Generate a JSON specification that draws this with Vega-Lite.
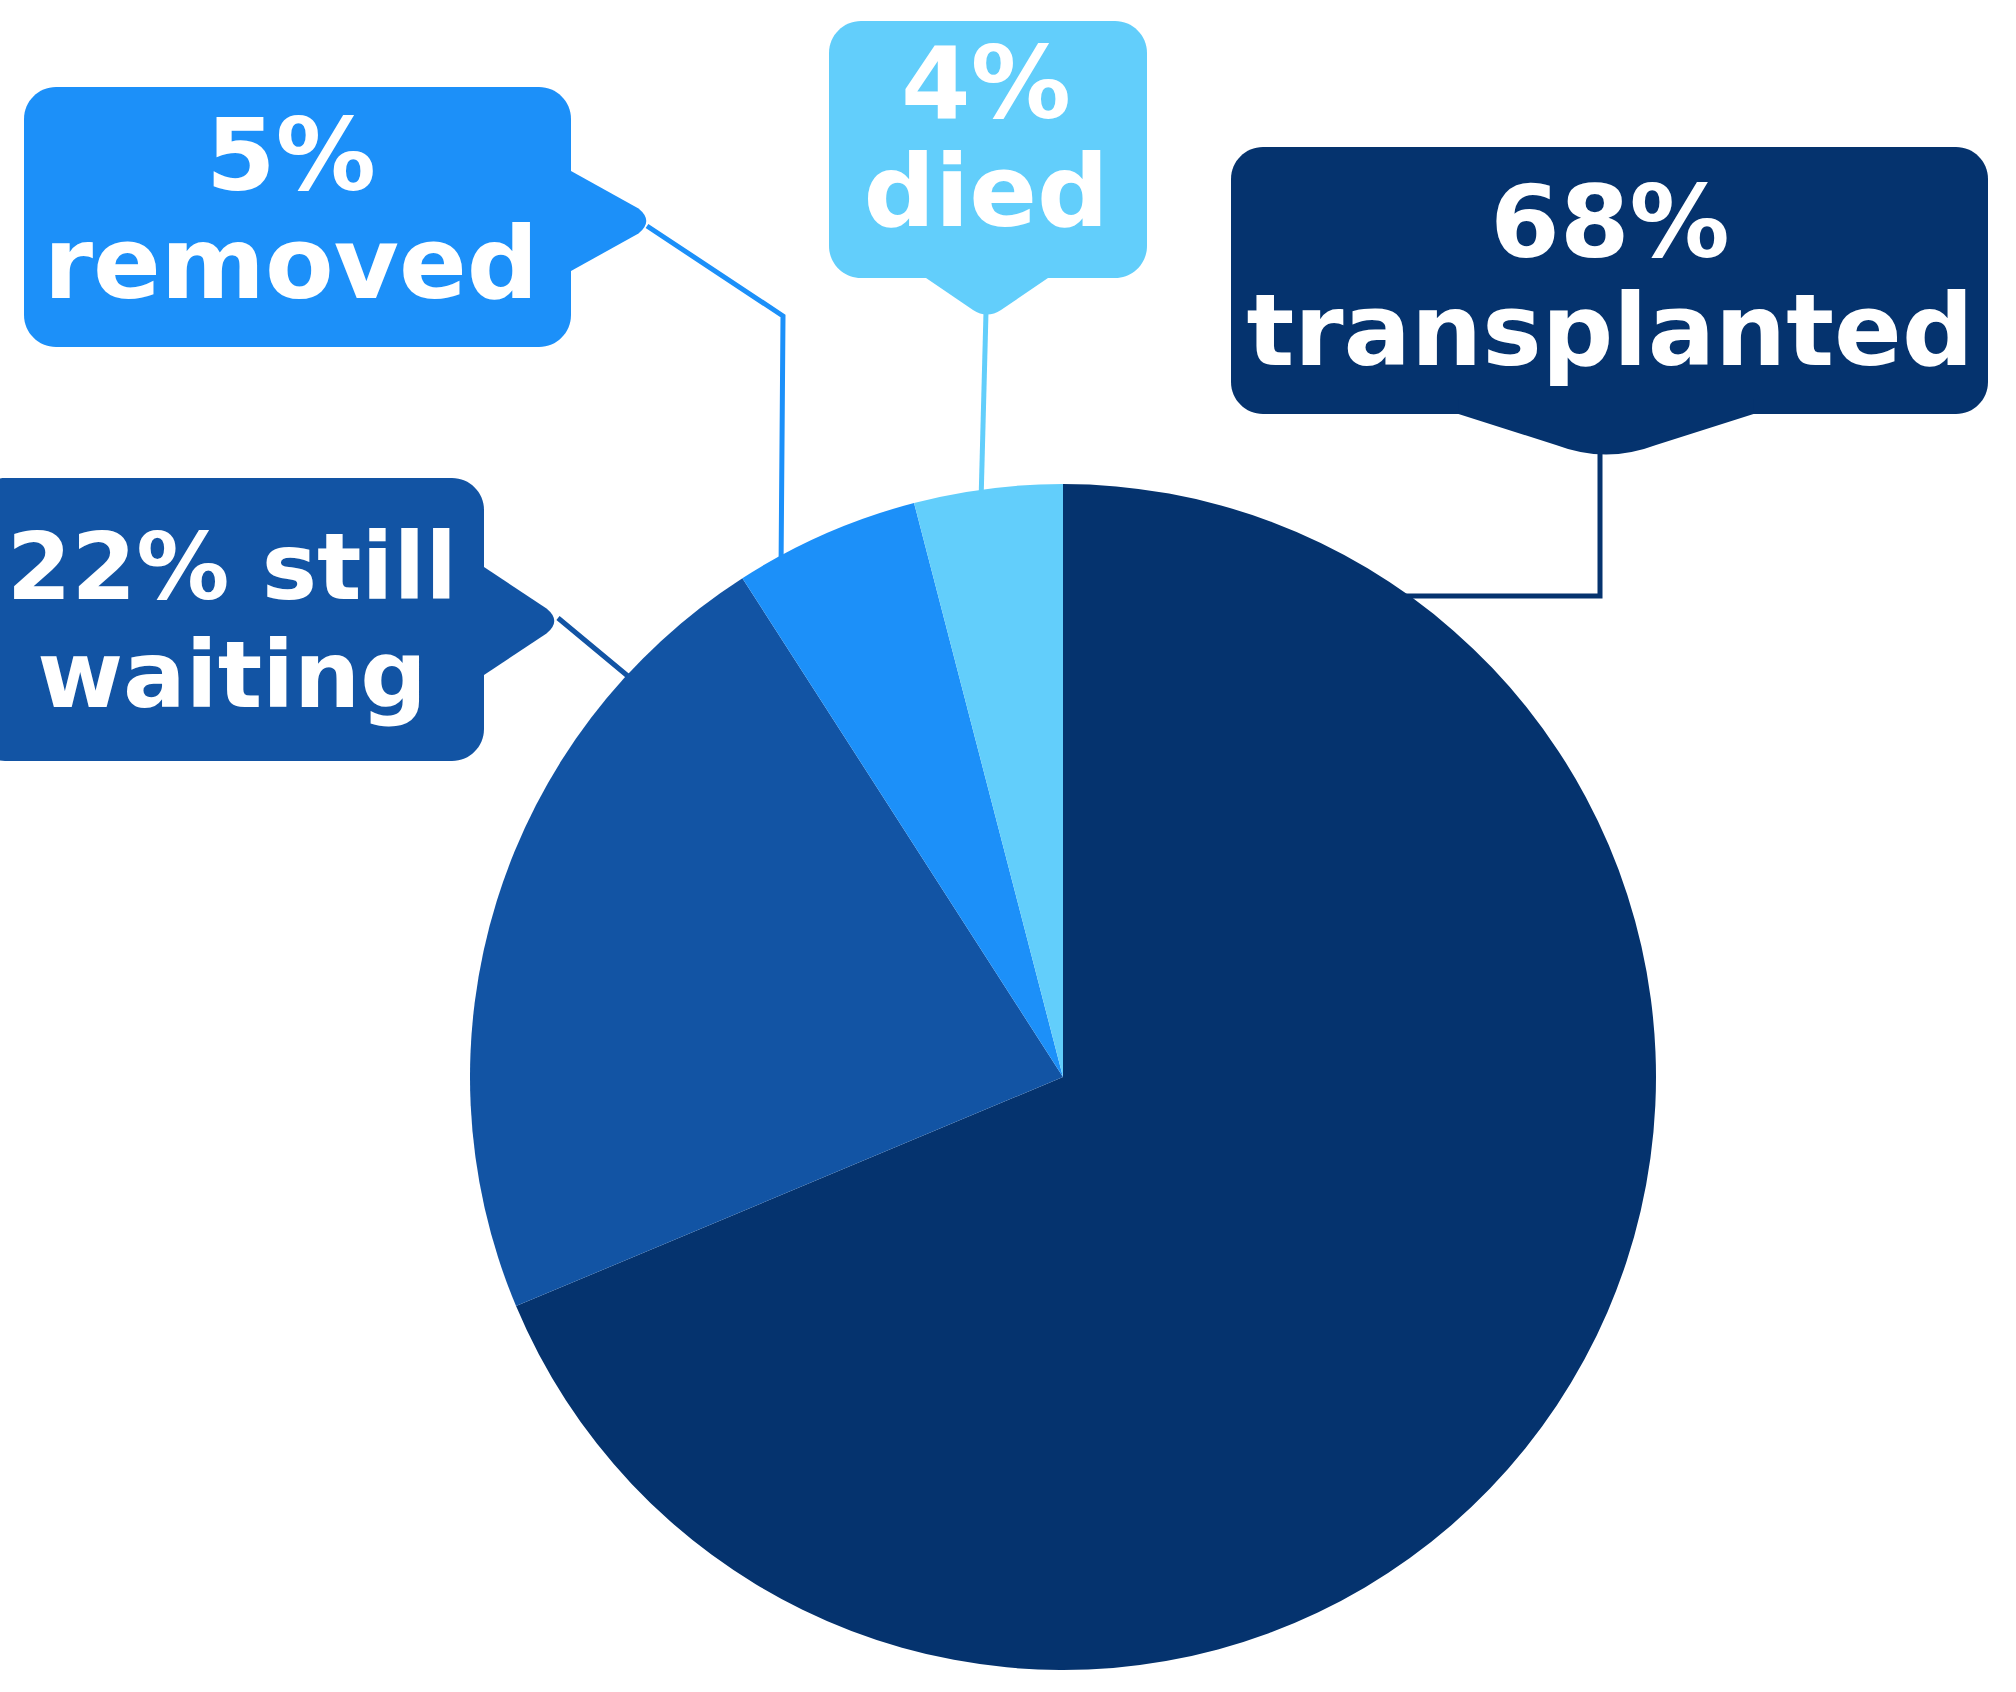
{
  "$schema": "https://vega.github.io/schema/vega-lite/v6.json",
  "width": 2016,
  "height": 1692,
  "padding": 0,
  "autosize": {"type": "none"},
  "background": "white",
  "config": {"view": {"stroke": null}},
  "datasets": {
    "slices": [
      {"category": "transplanted", "value": 68, "order": 1},
      {"category": "still waiting", "value": 22, "order": 2},
      {"category": "removed", "value": 5, "order": 3},
      {"category": "died", "value": 4, "order": 4}
    ],
    "callouts": [
      {"category": "transplanted", "label": "68%\ntransplanted", "bx1": 168, "bx2": 925, "by1": 663, "by2": 930, "px": 543, "py": 663, "tx": 547, "ty": 820},
      {"category": "still waiting", "label": "22% still\nwaiting", "bx1": -1090, "bx2": -579, "by1": 316, "by2": 599, "px": -579, "py": 456, "tx": -831, "ty": 478},
      {"category": "removed", "label": "5%\nremoved", "bx1": -1039, "bx2": -492, "by1": 730, "by2": 990, "px": -492, "py": 856, "tx": -772, "ty": 887},
      {"category": "died", "label": "4%\ndied", "bx1": -234, "bx2": 84, "by1": 799, "by2": 1056, "px": -76, "py": 799, "tx": -77, "ty": 959}
    ],
    "leaders": [
      {"category": "transplanted", "seq": 1, "x": 537, "y": 625},
      {"category": "transplanted", "seq": 2, "x": 537, "y": 481},
      {"category": "transplanted", "seq": 3, "x": 330, "y": 481},
      {"category": "still waiting", "seq": 1, "x": -505, "y": 459},
      {"category": "still waiting", "seq": 2, "x": -434, "y": 400},
      {"category": "still waiting", "seq": 3, "x": -420, "y": 388},
      {"category": "removed", "seq": 1, "x": -416, "y": 851},
      {"category": "removed", "seq": 2, "x": -280, "y": 761},
      {"category": "removed", "seq": 3, "x": -282, "y": 505},
      {"category": "died", "seq": 1, "x": -77, "y": 765},
      {"category": "died", "seq": 2, "x": -82, "y": 575}
    ]
  },
  "layer": [
    {
      "data": {"name": "leaders"},
      "mark": {"type": "line", "strokeWidth": 5, "interpolate": "linear"},
      "encoding": {
        "x": {"field": "x", "type": "quantitative", "scale": {"domain": [-1063, 953], "nice": false, "zero": false}, "axis": null},
        "y": {"field": "y", "type": "quantitative", "scale": {"domain": [-615, 1077], "nice": false, "zero": false}, "axis": null},
        "detail": {"field": "category"},
        "order": {"field": "seq"},
        "color": {"field": "category", "type": "nominal", "scale": {"domain": ["transplanted", "still waiting", "removed", "died"], "range": ["#05336E", "#1254A4", "#1C90F9", "#62CEFB"]}, "legend": null}
      }
    },
    {
      "data": {"name": "slices"},
      "mark": {"type": "arc", "outerRadius": 593, "stroke": null},
      "encoding": {
        "x": {"datum": 0, "type": "quantitative"},
        "y": {"datum": 0, "type": "quantitative"},
        "theta": {"field": "value", "type": "quantitative", "stack": true},
        "order": {"field": "order"},
        "color": {"field": "category", "type": "nominal", "legend": null}
      }
    },
    {
      "data": {"name": "callouts"},
      "mark": {"type": "rect", "cornerRadius": 32},
      "encoding": {
        "x": {"field": "bx1", "type": "quantitative"},
        "x2": {"field": "bx2"},
        "y": {"field": "by1", "type": "quantitative"},
        "y2": {"field": "by2"},
        "color": {"field": "category", "type": "nominal", "legend": null}
      }
    },
    {
      "data": {"name": "callouts"},
      "mark": {"type": "point", "filled": true, "opacity": 1, "size": 10000, "strokeWidth": 0},
      "encoding": {
        "x": {"field": "px", "type": "quantitative"},
        "y": {"field": "py", "type": "quantitative"},
        "shape": {
          "field": "category",
          "type": "nominal",
          "scale": {
            "domain": ["transplanted", "still waiting", "removed", "died"],
            "range": [
              "M-2.95,-0.3L2.95,-0.3L2.95,0L1.0,0.62Q0,1.0 -1.0,0.62L-2.95,0Z",
              "M-0.3,-1.08L0,-1.08L1.25,-0.25Q1.56,0 1.25,0.25L0,1.08L-0.3,1.08Z",
              "M-0.3,-1L0,-1L1.35,-0.25Q1.66,0 1.35,0.25L0,1L-0.3,1Z",
              "M-1.22,-0.3L1.22,-0.3L1.22,0L0.28,0.64Q0,0.82 -0.28,0.64L-1.22,0Z"
            ]
          },
          "legend": null
        },
        "color": {"field": "category", "type": "nominal", "legend": null}
      }
    },
    {
      "data": {"name": "callouts"},
      "transform": [{"filter": "datum.category !== 'still waiting'"}],
      "mark": {"type": "text", "font": "DejaVu Sans", "fontWeight": "bold", "fontSize": 100, "color": "white", "align": "center", "baseline": "alphabetic", "lineBreak": "\n", "lineHeight": 108},
      "encoding": {
        "x": {"field": "tx", "type": "quantitative"},
        "y": {"field": "ty", "type": "quantitative"},
        "text": {"field": "label"}
      }
    },
    {
      "data": {"name": "callouts"},
      "transform": [{"filter": "datum.category === 'still waiting'"}],
      "mark": {"type": "text", "font": "DejaVu Sans", "fontWeight": "bold", "fontSize": 93, "color": "white", "align": "center", "baseline": "alphabetic", "lineBreak": "\n", "lineHeight": 108},
      "encoding": {
        "x": {"field": "tx", "type": "quantitative"},
        "y": {"field": "ty", "type": "quantitative"},
        "text": {"field": "label"}
      }
    }
  ]
}
